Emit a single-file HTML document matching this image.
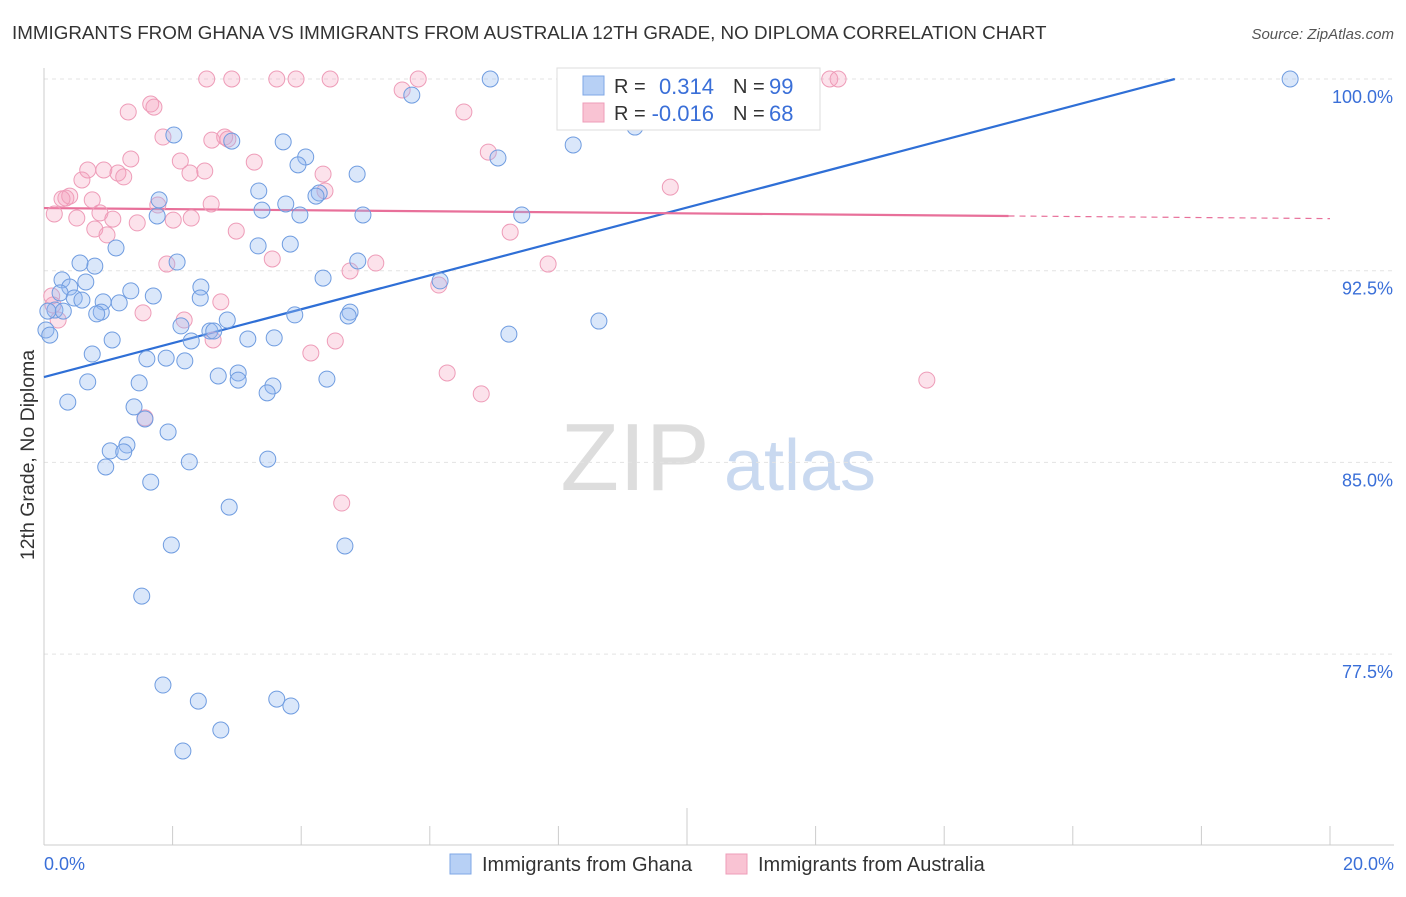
<!DOCTYPE html>
<html><head><meta charset="utf-8"><style>
body{margin:0;background:#fff;font-family:"Liberation Sans",sans-serif}
svg text{font-family:"Liberation Sans",sans-serif}
</style></head><body>
<svg id="chart" width="1406" height="892" xmlns="http://www.w3.org/2000/svg">
<text x="12" y="39" font-size="18.8" fill="#333">IMMIGRANTS FROM GHANA VS IMMIGRANTS FROM AUSTRALIA 12TH GRADE, NO DIPLOMA CORRELATION CHART</text>
<text x="1394" y="39" font-size="15" fill="#555" font-style="italic" text-anchor="end">Source: ZipAtlas.com</text>
<text transform="translate(34,455) rotate(-90)" font-size="19.5" fill="#333" text-anchor="middle">12th Grade, No Diploma</text>
<g>
<text x="635" y="490" font-size="96" fill="#ddd" font-family="Liberation Serif" text-anchor="middle">ZIP</text>
<text x="800" y="490" font-size="72" fill="#c9d9f0" text-anchor="middle">atlas</text>
</g>
<g id="grid"></g><g id="axes"></g><g id="trend"></g><g id="dots"></g>
<g>
<rect x="557" y="68" width="263" height="62" fill="#fff" stroke="#ddd"/>
<rect x="583" y="76" width="21" height="19" fill="#b7d0f5" stroke="#7fa7e6"/>
<rect x="583" y="103" width="21" height="19" fill="#f9c3d3" stroke="#ee9cb8"/>
<text x="614" y="93" font-size="20" fill="#333">R =</text>
<text x="714" y="94" font-size="22" fill="#3a6fd8" text-anchor="end">0.314</text>
<text x="733" y="93" font-size="20" fill="#333">N =</text>
<text x="769" y="94" font-size="22" fill="#3a6fd8">99</text>
<text x="614" y="120" font-size="20" fill="#333">R =</text>
<text x="714" y="121" font-size="22" fill="#3a6fd8" text-anchor="end">-0.016</text>
<text x="733" y="120" font-size="20" fill="#333">N =</text>
<text x="769" y="121" font-size="22" fill="#3a6fd8">68</text>
</g>
<g>
<rect x="450" y="854" width="21" height="20" fill="#b7d0f5" stroke="#7fa7e6"/>
<text x="482" y="871" font-size="20" fill="#333">Immigrants from Ghana</text>
<rect x="726" y="854" width="21" height="20" fill="#f9c3d3" stroke="#ee9cb8"/>
<text x="758" y="871" font-size="20" fill="#333">Immigrants from Australia</text>
</g>
</svg>
<script>
const yTicks=[100,92.5,85,77.5];
const yTickLabels=["100.0%","92.5%","85.0%","77.5%"];
const xTickLabels=["0.0%","20.0%"];
const ghanaX=[6.94,19.38,5.72,9.19,8.23,2.02,2.92,3.72,4.07,3.95,7.06,4.87,3.34,4.28,4.23,1.79,3.76,1.76,3.39,3.98,4.96,7.43,1.12,3.33,3.83,4.88,2.07,0.79,0.56,0.28,0.65,0.40,0.25,0.47,0.59,0.92,1.17,1.35,1.70,2.44,2.43,4.34,6.16,8.63,7.23,4.76,4.73,3.90,2.85,2.13,2.58,2.64,0.89,0.82,0.17,0.06,0.30,1.06,2.29,3.17,3.58,0.75,1.60,1.90,2.19,2.71,3.02,3.02,3.56,3.47,4.40,0.68,1.48,0.37,1.40,1.57,1.93,1.29,1.03,1.24,2.26,3.48,0.96,1.66,2.88,1.98,4.68,1.52,1.85,2.40,3.62,3.84,2.75,2.16,0.03,0.09];
const ghanaY=[100,100,99.37,98.12,97.42,97.81,97.57,97.54,96.95,96.64,96.91,96.28,95.62,95.54,95.42,95.27,95.11,94.64,94.87,94.68,94.68,94.68,93.39,93.47,93.54,92.88,92.84,92.68,92.80,92.14,92.06,91.86,91.63,91.43,91.35,91.28,91.24,91.71,91.51,91.86,91.43,92.21,92.10,90.53,90.02,90.88,90.73,90.77,90.57,90.34,90.14,90.14,90.88,90.81,90.96,90.92,90.92,89.79,89.75,89.83,89.87,89.24,89.05,89.08,88.97,88.38,88.50,88.22,87.99,87.72,88.26,88.15,88.11,87.36,87.17,86.70,86.19,85.68,85.45,85.41,85.02,85.13,84.82,84.23,83.25,81.77,81.73,79.77,76.29,75.66,75.74,75.47,74.53,73.71,90.18,89.98];
const ausX=[2.53,2.92,3.62,3.92,4.45,5.82,12.22,12.35,5.57,1.66,1.71,1.31,6.53,1.85,2.61,2.81,2.86,6.91,1.35,2.12,3.27,0.68,0.93,1.15,1.24,2.27,2.50,4.34,9.74,0.59,0.34,0.40,0.75,1.77,2.60,4.37,0.16,0.87,0.51,1.07,1.45,2.01,2.29,0.79,2.99,7.25,0.98,3.55,4.76,5.16,7.84,1.91,6.14,2.75,0.12,0.14,1.54,0.22,2.18,2.63,4.53,4.15,6.27,6.80,13.73,1.57,4.63,0.28];
const ausY=[100,100,100,100,100,100,100,100,99.57,99.02,98.90,98.71,98.71,97.73,97.61,97.73,97.65,97.14,96.87,96.79,96.75,96.44,96.44,96.32,96.17,96.32,96.40,96.28,95.77,96.05,95.34,95.42,95.27,95.07,95.11,95.62,94.72,94.76,94.56,94.52,94.37,94.48,94.56,94.13,94.05,94.01,93.90,92.96,92.49,92.80,92.76,92.76,91.94,91.28,91.51,91.16,90.85,90.57,90.57,89.79,89.75,89.28,88.50,87.68,88.22,86.74,83.41,95.31];
const ghanaTrend=[88.34,0.663];
const ausTrend=[94.95,-0.0206];
const NS="http://www.w3.org/2000/svg";
const X0=44,X1=1330,YT=79,PPY=25.56;
function sx(v){return X0+(v/20)*(X1-X0);}
function sy(v){return YT+(100-v)*PPY;}
function mk(tag,attrs,parent){const e=document.createElementNS(NS,tag);for(const k in attrs)e.setAttribute(k,attrs[k]);parent.appendChild(e);return e;}
const grid=document.getElementById('grid'),axes=document.getElementById('axes');
yTicks.forEach((t,i)=>{
 const l=mk('line',{x1:X0,x2:1394,y1:sy(t),y2:sy(t),stroke:'#e3e3e3','stroke-dasharray':'4,4'},grid);
 
 
 const tx=mk('text',{x:1393,y:sy(t)+24,'font-size':18,fill:'#3a6fd8','text-anchor':'end'},axes);
 tx.textContent=yTickLabels[i];
 
 
});
const ya=mk('line',{x1:X0,x2:X0,y1:68,y2:845,stroke:'#ccc'},axes);


const xa=mk('line',{x1:X0,x2:1394,y1:845,y2:845,stroke:'#ccc'},axes);


for(let i=1;i<=10;i++){const x=sx(i*2);
 const t=mk('line',{x1:x,x2:x,y1:(i===5?808:826),y2:845,stroke:'#ccc'},axes);
 
 }
[[0,'start',44],[20,'end',1394]].forEach((d,i)=>{
 const t=mk('text',{x:d[2],y:870,'font-size':18,fill:'#3a6fd8','text-anchor':d[1]},axes);
 t.textContent=xTickLabels[i];
 
 });
const dots=document.getElementById('dots');
ausX.forEach((x,i)=>{const c=mk('circle',{cx:sx(x),cy:sy(ausY[i]),r:8,fill:'rgba(244,160,188,0.3)',stroke:'#ee9cb8','stroke-width':1},dots);
 
 });
ghanaX.forEach((x,i)=>{const c=mk('circle',{cx:sx(x),cy:sy(ghanaY[i]),r:8,fill:'rgba(150,185,240,0.35)',stroke:'#6f9ce0','stroke-width':1},dots);
 
 });
const tr=document.getElementById('trend');
const xEnd=(100-ghanaTrend[0])/ghanaTrend[1];
const bl=mk('line',{x1:sx(0),y1:sy(ghanaTrend[0]),x2:sx(xEnd),y2:sy(100),stroke:'#2f6fd6','stroke-width':2.2},tr);


const pl=mk('line',{x1:sx(0),y1:sy(ausTrend[0]),x2:sx(15),y2:sy(ausTrend[0]+15*ausTrend[1]),stroke:'#e8709a','stroke-width':2.2},tr);


const pd=mk('line',{x1:sx(15),y1:sy(ausTrend[0]+15*ausTrend[1]),x2:sx(20),y2:sy(ausTrend[0]+20*ausTrend[1]),stroke:'#e8709a','stroke-width':1.2,'stroke-dasharray':'6,5'},tr);


</script>
</body></html>
